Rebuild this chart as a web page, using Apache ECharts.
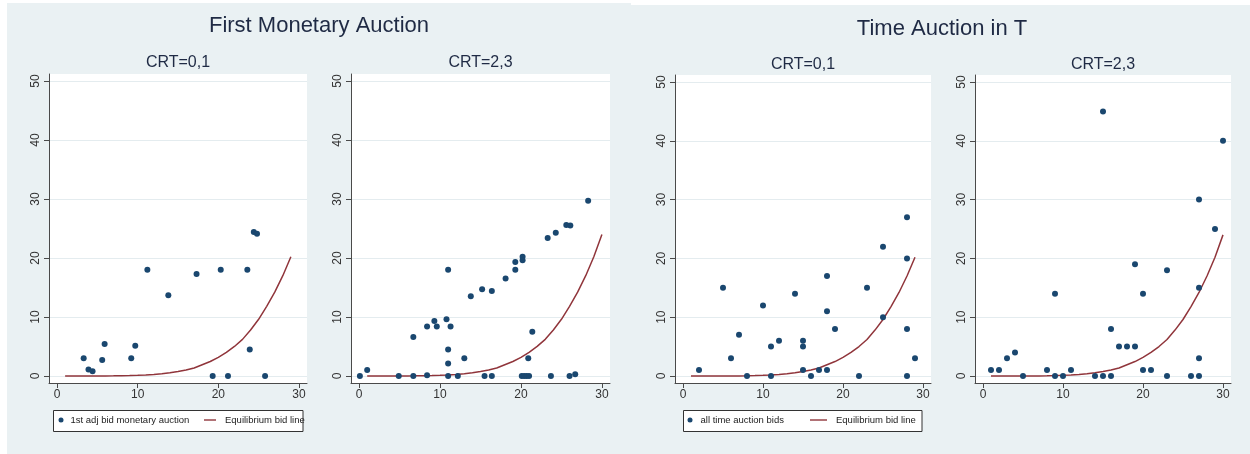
<!DOCTYPE html>
<html>
<head>
<meta charset="utf-8">
<script src="https://cdn.jsdelivr.net/npm/echarts@6/dist/echarts.min.js"></script>
<style>
html,body{margin:0;padding:0;background:#ffffff;}
#chart{width:1250px;height:454px;}
</style>
</head>
<body>
<div id="chart"></div>
<script>
// ---------- data ----------
const xTicks = [0, 10, 20, 30];
const yTicks = [0, 10, 20, 30, 40, 50];
const panelTitles = ['First Monetary Auction', 'Time Auction in T'];
const subTitles = ['CRT=0,1', 'CRT=2,3', 'CRT=0,1', 'CRT=2,3'];
const monetaryNames = ['1st adj bid monetary auction', 'Equilibrium bid line'];
const timeNames = ['all time auction bids', 'Equilibrium bid line'];

// First Monetary Auction, CRT=0,1
const monetaryLow = [
  [3.3,3.0],[3.9,1.1],[4.4,0.8],[5.6,2.7],[5.9,5.4],[9.2,3.0],[9.7,5.1],
  [11.2,18.0],[13.8,13.7],[17.3,17.3],[19.3,0],[20.3,18.0],[21.2,0],
  [23.6,18.0],[23.9,4.5],[24.4,24.4],[24.8,24.1],[25.8,0]
];
// First Monetary Auction, CRT=2,3
const monetaryHigh = [
  [0.1,0],[1.0,1.0],[4.9,0],[6.7,0],[6.7,6.6],[8.4,8.4],[8.4,0.1],[9.3,9.3],
  [9.6,8.4],[10.8,9.6],[11.0,18.0],[11.0,4.5],[11.0,2.1],[11.0,0],[11.3,8.4],
  [12.2,0],[13.0,3.0],[13.8,13.5],[15.2,14.7],[15.5,0],[16.4,14.4],[16.4,0],
  [18.1,16.5],[19.3,19.3],[19.3,18.0],[20.2,20.2],[20.2,19.6],[20.1,0],
  [20.4,0],[20.7,0],[21.0,0],[20.9,3.0],[21.4,7.5],[23.3,23.4],[23.7,0],
  [24.3,24.3],[25.6,25.6],[26.1,25.5],[26.0,0],[26.7,0.3],[28.3,29.7]
];
// Time Auction in T, CRT=0,1
const timeLow = [
  [2,1],[5,15],[6,3],[7,7],[8,0],[10,12],[11,5],[11,0],[12,6],[14,14],
  [15,6],[15,5],[15,1],[16,0],[17,1],[18,17],[18,11],[18,1],[19,8],[22,0],
  [23,15],[25,22],[25,10],[28,27],[28,20],[28,8],[28,0],[29,3]
];
// Time Auction in T, CRT=2,3
const timeHigh = [
  [1,1],[2,1],[3,3],[4,4],[5,0],[8,1],[9,14],[9,0],[10,0],[11,1],[14,0],
  [15,45],[15,0],[16,8],[16,0],[17,5],[18,5],[19,19],[19,5],[20,14],[20,1],
  [21,1],[23,18],[23,0],[26,0],[27,30],[27,15],[27,3],[27,0],[29,25],[30,40]
];
// Equilibrium bid line (at integer values)
const eqX = [1,2,3,4,5,6,7,8,9,10,11,12,13,14,15,16,17,18,19,20,21,22,23,24,25,26,27,28,29,30];
const eqY = [0,0,0,0,0,0,0.01,0.03,0.06,0.1,0.16,0.25,0.37,0.53,0.75,1.0,1.35,1.9,2.45,3.15,4.0,5.0,6.2,7.8,9.6,11.8,14.2,17.0,20.2,24.0];
const eqEndLow = 29;   // CRT=0,1 panels stop at 29
const eqEndHigh = 30;  // CRT=2,3 panels stop at 30

// ---------- styling ----------
const FONT = '"Liberation Sans", Arial, Helvetica, sans-serif';
const BG = '#eaf1f3';
const NAVY = '#1a476f';
const MAROON = '#90353b';
const AXIS = '#4a4a4a';
const TITLE = '#1f2a44';

function eqLine(end) {
  const out = [];
  for (let i = 0; i < eqX.length; i++) if (eqX[i] <= end) out.push([eqX[i], eqY[i]]);
  return out;
}

const grids = [
  {left: 49, top: 74, width: 258, height: 309},
  {left: 351, top: 74, width: 259, height: 309},
  {left: 675, top: 75, width: 256, height: 308},
  {left: 975, top: 75, width: 256, height: 308}
].map(g => Object.assign(g, {show: true, backgroundColor: '#ffffff', borderWidth: 0}));

const xAxes = grids.map((g, i) => ({
  gridIndex: i, type: 'value', min: -1, max: 31,
  axisLine: {show: true, onZero: false, lineStyle: {color: AXIS, width: 1}},
  axisTick: {show: true, length: 5, customValues: xTicks, lineStyle: {color: AXIS}},
  axisLabel: {customValues: xTicks, margin: 6, fontSize: 12, color: '#333', fontFamily: FONT},
  splitLine: {show: false}
}));
const yAxes = grids.map((g, i) => ({
  gridIndex: i, type: 'value', min: -1.2, max: 51.2,
  axisLine: {show: true, onZero: false, lineStyle: {color: AXIS, width: 1}},
  axisTick: {show: true, length: 5, customValues: yTicks, lineStyle: {color: AXIS}},
  axisLabel: {customValues: yTicks, rotate: 90, margin: 7, fontSize: 12, color: '#333', fontFamily: FONT},
  splitLine: {show: true, lineStyle: {color: '#e4ecef', width: 1}}
}));

const scatterSets = [monetaryLow, monetaryHigh, timeLow, timeHigh];
const names = [monetaryNames, monetaryNames, timeNames, timeNames];
const ends = [eqEndLow, eqEndHigh, eqEndLow, eqEndHigh];
const series = [];
scatterSets.forEach((d, i) => {
  series.push({
    type: 'scatter', name: names[i][0], xAxisIndex: i, yAxisIndex: i,
    data: d, symbol: 'circle', symbolSize: 6,
    itemStyle: {color: NAVY, opacity: 1}, z: 3
  });
  series.push({
    type: 'line', name: names[i][1], xAxisIndex: i, yAxisIndex: i,
    data: eqLine(ends[i]), symbol: 'none', smooth: false,
    lineStyle: {color: MAROON, width: 1.5}, itemStyle: {color: MAROON}, z: 2
  });
});

const gridCenter = g => g.left + g.width / 2;

// one legend component per entry so each sits where the reference puts it
function legendItem(name, left, itemWidth, isLine, textPad) {
  return {
    data: [isLine
      ? {name: name, icon: 'path://M0,0H' + itemWidth + 'V1.4H0Z', itemStyle: {color: MAROON, borderWidth: 0}}
      : {name: name, icon: 'circle', itemStyle: {color: NAVY, borderWidth: 0}}],
    left: left, top: 415, orient: 'horizontal', padding: 0,
    itemWidth: itemWidth, itemHeight: 5, selectedMode: false,
    textStyle: {fontSize: 9.5, color: '#222', fontFamily: FONT, padding: [0, 0, 0, textPad]}
  };
}

const option = {
  backgroundColor: '#ffffff',
  animation: false,
  graphic: [
    {type: 'rect', z: -10, shape: {x: 7, y: 3, width: 624, height: 451}, style: {fill: BG}},
    {type: 'rect', z: -10, shape: {x: 631, y: 5, width: 619, height: 449}, style: {fill: BG}},
    {type: 'rect', z: -5, shape: {x: 53.5, y: 410.5, width: 249.5, height: 21}, style: {fill: '#ffffff', stroke: '#333', lineWidth: 1}},
    {type: 'rect', z: -5, shape: {x: 683.5, y: 410.5, width: 238.5, height: 21}, style: {fill: '#ffffff', stroke: '#333', lineWidth: 1}},
    {type: 'text', z: 10, x: 319, y: 26, style: {text: panelTitles[0], font: '22px ' + FONT, fill: TITLE, textAlign: 'center', textVerticalAlign: 'middle'}},
    {type: 'text', z: 10, x: 942, y: 28.5, style: {text: panelTitles[1], font: '22px ' + FONT, fill: TITLE, textAlign: 'center', textVerticalAlign: 'middle'}},
    ...subTitles.map((t, i) => ({
      type: 'text', z: 10, x: gridCenter(grids[i]), y: i < 2 ? 62.5 : 64.5,
      style: {text: t, font: '16px ' + FONT, fill: TITLE, textAlign: 'center', textVerticalAlign: 'middle'}
    }))
  ],
  legend: [
    legendItem(monetaryNames[0], 58.5, 9, false, 0),
    legendItem(monetaryNames[1], 204, 12, true, 4),
    legendItem(timeNames[0], 687.5, 11, false, 0),
    legendItem(timeNames[1], 810, 17, true, 4)
  ],
  grid: grids,
  xAxis: xAxes,
  yAxis: yAxes,
  series: series
};

const chart = echarts.init(document.getElementById('chart'), null, {renderer: 'canvas'});
chart.setOption(option);
</script>
</body>
</html>
